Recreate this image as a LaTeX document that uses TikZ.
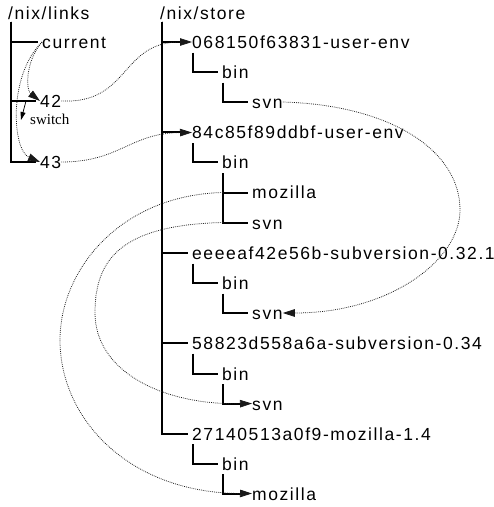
\documentclass[tikz,border=0pt]{standalone}
\usepackage{fontspec}
\setmainfont{Liberation Serif}
\newfontfamily\pathfont[LetterSpace=9]{Liberation Sans}
\usetikzlibrary{arrows.meta}

\begin{document}
\begin{tikzpicture}[x=1bp, y=-1bp,
  entry/.style={anchor=west, inner sep=0pt, text height=13bp, text depth=0pt,
    font=\pathfont\fontsize{17.5bp}{20bp}\selectfont},
  tree/.style={line width=2bp, shorten >=4bp},
  link/.style={black!90, line width=0.75bp, dash pattern=on 0.8bp off 1.1bp,
    -{Triangle[length=12bp,width=7.5bp]}}]
  \useasboundingbox (0,0) rectangle (494,507);
  \node[entry] (links) at (8,13) {/nix/links};
  \node[entry] (current) at (42,42) {current};
  \node[entry] (l42) at (40,101) {42};
  \node[entry] (l43) at (40,162) {43};
  \node[anchor=west, inner sep=0pt, font=\fontsize{15bp}{17bp}\selectfont] (switch) at (30,119) {switch};
  \node[entry] (store) at (160,13) {/nix/store};
  \node[entry] (env1) at (192,42) {068150f63831-user-env};
  \node[entry] (bin1) at (222,72) {bin};
  \node[entry] (svn1) at (252,102) {svn};
  \node[entry] (env2) at (192,132.5) {84c85f89ddbf-user-env};
  \node[entry] (bin2) at (222,162.5) {bin};
  \node[entry] (moz2) at (252,192.5) {mozilla};
  \node[entry] (svn2) at (252,222.5) {svn};
  \node[entry] (sub1) at (192,253) {eeeeaf42e56b-subversion-0.32.1};
  \node[entry] (bin3) at (222,283) {bin};
  \node[entry] (svn3) at (252,313) {svn};
  \node[entry] (sub2) at (192,343) {58823d558a6a-subversion-0.34};
  \node[entry] (bin4) at (222,373.5) {bin};
  \node[entry] (svn4) at (252,403.5) {svn};
  \node[entry] (moz) at (192,433.5) {27140513a0f9-mozilla-1.4};
  \node[entry] (bin5) at (222,463.5) {bin};
  \node[entry] (moz5) at (252,493.5) {mozilla};

  \foreach \c in {current, l42, l43}
    \draw[tree] ([xshift=3bp,yshift=-2bp]links.south west) |- (\c.west);
  \foreach \c in {env1, env2, sub1, sub2, moz}
    \draw[tree] ([xshift=2bp,yshift=-2bp]store.south west) |- (\c.west);
  \foreach \p/\c in {env1/bin1, bin1/svn1, env2/bin2, bin2/moz2, bin2/svn2,
      sub1/bin3, bin3/svn3, sub2/bin4, bin4/svn4, moz/bin5, bin5/moz5}
    \draw[tree] ([xshift=1bp,yshift=-4bp]\p.south west) |- (\c.west);

  \draw[line width=0.75bp, -{Triangle[length=8bp,width=5bp]}]
    ([xshift=-4bp,yshift=18bp]switch.west) -- ([xshift=-9bp,yshift=-1bp]switch.west);
  \draw[link] (current.west) .. controls (25,62) and (26,90) .. (l42.west);
  \draw[link] (current.west) .. controls (8,75) and (12,150) .. (l43.west);
  \draw[link] (l42.east) .. controls (130,104) and (120,42) .. (env1.west);
  \draw[link] (l43.east) .. controls (120,162) and (130,133) .. (env2.west);
  \draw[link] (svn1.east) .. controls (390,105) and (460,150) .. (460,210)
    .. controls (460,260) and (390,313) .. (svn3.east);
  \draw[link] ([xshift=-29bp]moz2.west) .. controls (120,195) and (60,270) .. (60,340)
    .. controls (60,420) and (130,493) .. (moz5.west);
  \draw[link] ([xshift=-29bp]svn2.west) .. controls (120,225) and (95,260) .. (95,313)
    .. controls (95,370) and (160,405) .. (svn4.west);
\end{tikzpicture}
\end{document}
